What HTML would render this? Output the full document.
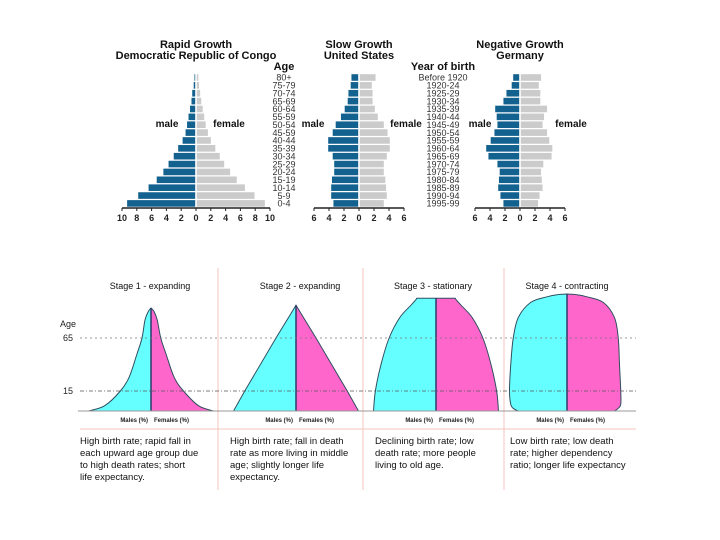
<!DOCTYPE html>
<html><head><meta charset="utf-8"><style>
html,body{margin:0;padding:0;background:#fff;}
svg{display:block;font-family:"Liberation Sans",sans-serif;}
</style></head><body>
<svg id="c" width="720" height="540" viewBox="0 0 720 540">
<rect x="0" y="0" width="720" height="540" fill="#fff"/>
<g id="topg"></g>
<g id="bot"></g>
</svg>
<script>
const ageLabels=["80+","75-79","70-74","65-69","60-64","55-59","50-54","45-59","40-44","35-39","30-34","25-29","20-24","15-19","10-14","5-9","0-4"];
const yearLabels=["Before 1920","1920-24","1925-29","1930-34","1935-39","1940-44","1945-49","1950-54","1955-59","1960-64","1965-69","1970-74","1975-79","1980-84","1985-89","1990-94","1995-99"];
const congoMale=[0.1,0.2,0.4,0.5,0.7,0.9,1.1,1.3,1.7,2.3,2.9,3.6,4.3,5.2,6.3,7.7,9.2];
const congoFemale=[0.2,0.3,0.45,0.6,0.8,1.0,1.2,1.5,1.9,2.5,3.1,3.7,4.5,5.4,6.5,7.8,9.2];
const usMale=[0.9,1.0,1.3,1.4,1.8,2.3,3.0,3.4,4.0,4.0,3.4,3.2,3.2,3.5,3.6,3.6,3.3];
const usFemale=[2.1,1.6,1.7,1.7,2.0,2.4,3.2,3.7,4.0,4.0,3.6,3.2,3.2,3.4,3.5,3.6,3.2];
const deMale=[0.8,1.0,1.7,2.1,3.2,3.0,2.9,3.3,3.8,4.4,4.1,2.9,2.6,2.7,2.8,2.5,2.1];
const deFemale=[2.7,2.4,2.6,2.6,3.5,3.1,2.9,3.5,3.8,4.2,4.1,3.0,2.7,2.8,2.9,2.5,2.3];
const congoTicks=[10,8,6,4,2,0,2,4,6,8,10];
const smallTicks=[6,4,2,0,2,4,6];

const s1Ages=[0,4,15,28,50,65,80,87,90];
const s1Male=[5.0,3.7,2.45,1.75,1.12,0.72,0.48,0.22,0];
const s1Female=[5.0,3.8,2.6,1.85,1.2,0.78,0.5,0.25,0];
const s2Ages=[0,15,65,92];
const s2Male=[5.0,4.1,1.6,0];
const s2Female=[5.0,4.1,1.6,0];
const s3Ages=[0,15,40,65,82,92,96,97];
const s3Male=[5.0,4.85,4.4,3.75,2.9,2.0,1.6,1.55];
const s3Female=[5.0,4.85,4.4,3.75,2.9,2.0,1.6,1.55];
const s4Ages=[0,2,5,15,40,65,82,94,98,99.5,100];
const s4Male=[3.9,4.3,4.5,4.6,4.5,4.3,3.9,2.9,1.6,0.8,0];
const s4Female=[3.8,4.1,4.3,4.3,4.2,4.1,3.8,2.9,1.6,0.8,0];

const NS="http://www.w3.org/2000/svg";
function mk(tag,parent,attrs){const e=document.createElementNS(NS,tag);for(const k in attrs)e.setAttribute(k,attrs[k]);parent.appendChild(e);return e;}
function txt(parent,x,y,s,size,anchor,weight,fill){const t=mk('text',parent,{x:x,y:y,'font-size':size,'text-anchor':anchor||'middle','font-weight':weight||'normal',fill:fill||'#111'});t.textContent=s;return t;}
const topG=document.getElementById('topg'),bot=document.getElementById('bot');

function rowY(i){return 77.5+i*7.87;}
function pyramid(cx,unit,male,female,ticks,maxT,title1,title2,mx,fx,name){
  const g=mk('g',topG,{});
  
  
  let t=txt(g,cx,48,title1,11,'middle','bold');
  
  
  t=txt(g,cx,59,title2,11,'middle','bold');
  
  
  for(let i=0;i<male.length;i++){
    const y=rowY(i)-3.3;
    const m=mk('rect',g,{x:cx-0.8-male[i]*unit,y:y,width:male[i]*unit,height:6.6,fill:'#12618f'});
    
    
    const f=mk('rect',g,{x:cx+0.8,y:y,width:female[i]*unit,height:6.6,fill:'#cbcbcb'});
    
    
  }
  const ax=mk('line',g,{x1:cx-maxT*unit,x2:cx+maxT*unit,y1:208,y2:208,stroke:'#222','stroke-width':1.5});
  
  
  ticks.forEach((v,i)=>{
    const x=cx+(i<(ticks.length-1)/2?-v:v)*unit;
    mk('line',g,{x1:x,x2:x,y1:208,y2:211,stroke:'#222'});
    const tt=txt(g,x,221,String(v),9,'middle','bold','#222');
    
    
  });
  t=txt(g,mx,127,'male',10,'middle','bold');
  
  
  t=txt(g,fx,127,'female',10,'middle','bold');
  
  
}
pyramid(196,7.4,congoMale,congoFemale,congoTicks,10,'Rapid Growth','Democratic Republic of Congo',167,229,'congo-pyramid');
pyramid(359,7.5,usMale,usFemale,smallTicks,6,'Slow Growth','United States',313,406,'us-pyramid');
pyramid(520,7.5,deMale,deFemale,smallTicks,6,'Negative Growth','Germany',480,571,'germany-pyramid');

let h=txt(topG,284,70,'Age',11,'middle','bold');


ageLabels.forEach((s,i)=>{const t=txt(topG,284,rowY(i)+3.2,s,9,'middle','normal','#333');
  
  });
h=txt(topG,443,70,'Year of birth',11,'middle','bold');


yearLabels.forEach((s,i)=>{const t=txt(topG,443,rowY(i)+3.2,s,9,'middle','normal','#333');
  
  });

const ageKnots=[[0,411],[15,391],[65,338],[90,308],[100,294]];
function ageY(a){for(let i=1;i<ageKnots.length;i++){const [a0,y0]=ageKnots[i-1],[a1,y1]=ageKnots[i];if(a<=a1)return y0+(a-a0)/(a1-a0)*(y1-y0);}return 294;}
const pctU=12.5;
let ln=mk('line',bot,{x1:80,x2:636,y1:429,y2:429,stroke:'#f4c4bc','stroke-width':1});


[218,363,504].forEach(x=>{const l=mk('line',bot,{x1:x,x2:x,y1:268,y2:490,stroke:'#f4c4bc','stroke-width':1});
  
  });

function smooth(pts){
  let d='';
  for(let i=0;i<pts.length-1;i++){
    const p0=pts[Math.max(0,i-1)],p1=pts[i],p2=pts[i+1],p3=pts[Math.min(pts.length-1,i+2)];
    const c1x=p1[0]+(p2[0]-p0[0])/6,c1y=p1[1]+(p2[1]-p0[1])/6;
    const c2x=p2[0]-(p3[0]-p1[0])/6,c2y=p2[1]-(p3[1]-p1[1])/6;
    d+=' C'+c1x+','+c1y+' '+c2x+','+c2y+' '+p2[0]+','+p2[1];
  }
  return d;
}
function stage(cx,ages,male,female,name,curved){
  const g=mk('g',bot,{});
  
  
  const last=ages.length-1;
  [[male,-1,'#66ffff','males-area'],[female,1,'#ff66cc','females-area']].forEach(([arr,sg,col,nm])=>{
    const pts=ages.map((a,i)=>[cx+sg*arr[i]*pctU,ageY(a)]);
    let d='M'+cx+','+ageY(0)+' L'+pts[0][0]+','+pts[0][1];
    if(curved)d+=smooth(pts);else for(let i=1;i<pts.length;i++)d+=' L'+pts[i][0]+','+pts[i][1];
    d+=' L'+cx+','+ageY(ages[last])+' Z';
    const p=mk('path',g,{d:d,fill:col,stroke:'#2f4f5f','stroke-width':1,'stroke-linejoin':'round'});
    
    
  });
  mk('line',g,{x1:cx,x2:cx,y1:ageY(0),y2:ageY(ages[last]),stroke:'#2a3a6a','stroke-width':1.5});
  let t=txt(g,cx-3,422,'Males (%)',6,'end','bold','#222');
  
  
  t=txt(g,cx+3,422,'Females (%)',6,'start','bold','#222');
  
  
}
stage(151,s1Ages,s1Male,s1Female,'stage-1-shape',true);
stage(296,s2Ages,s2Male,s2Female,'stage-2-shape',false);
stage(436,s3Ages,s3Male,s3Female,'stage-3-shape',true);
stage(567,s4Ages,s4Male,s4Female,'stage-4-shape',true);

ln=mk('line',bot,{x1:78,x2:636,y1:411,y2:411,stroke:'#999','stroke-width':1});


ln=mk('line',bot,{x1:80,x2:636,y1:ageY(65),y2:ageY(65),stroke:'#777','stroke-width':0.8,'stroke-dasharray':'2,3'});


ln=mk('line',bot,{x1:80,x2:636,y1:ageY(15),y2:ageY(15),stroke:'#555','stroke-width':0.8,'stroke-dasharray':'4,2,1,2'});


let tx=txt(bot,60,327,'Age',9,'start','normal','#222');


tx=txt(bot,63,341,'65',9,'start','normal','#222');


tx=txt(bot,63,394,'15',9,'start','normal','#222');



const titles=[[150,'Stage 1 - expanding'],[300,'Stage 2 - expanding'],[433,'Stage 3 - stationary'],[567,'Stage 4 - contracting']];
titles.forEach(([x,s])=>{const t=txt(bot,x,289,s,9,'middle','normal','#111');
  
  });
const descs=[[80,['High birth rate; rapid fall in','each upward age group due','to high death rates; short','life expectancy.']],
 [230,['High birth rate; fall in death','rate as more living in middle','age; slightly longer life','expectancy.']],
 [375,['Declining birth rate; low','death rate; more people','living to old age.']],
 [510,['Low birth rate; low death','rate; higher dependency','ratio; longer life expectancy']]];
descs.forEach(([x,lines])=>{lines.forEach((s,i)=>{const t=txt(bot,x,444+i*12,s,9.5,'start','normal','#111');
  
  });});
</script>
</body></html>
